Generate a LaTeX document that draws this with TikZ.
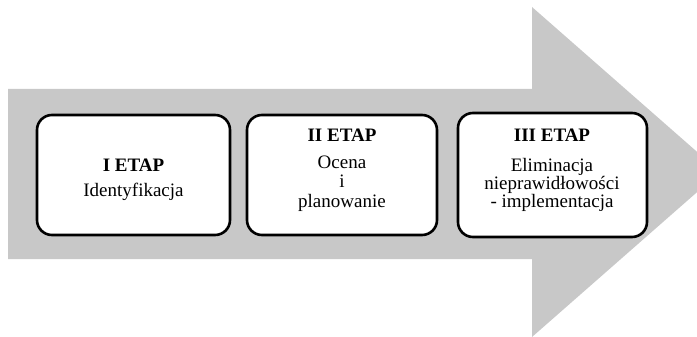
\documentclass[tikz,border=0pt]{standalone}
\usepackage{fontspec}
\setmainfont{Liberation Serif}
\begin{document}
\begin{tikzpicture}[x=1pt,y=-1pt,
  stage/.style={draw=black,fill=white,line width=2.6pt,rounded corners=15pt},
  lbl/.style={inner sep=0pt,anchor=base,font=\fontsize{19}{21}\selectfont},
  ttl/.style={lbl,font=\fontsize{19}{21}\selectfont\bfseries}]
\useasboundingbox (0,0) rectangle (697,337);
\fill[fill={rgb,255:red,200;green,200;blue,200}] (8,89) -- (532,89) -- (532,7) -- (720,172) -- (532,337) -- (532,259) -- (8,259) -- cycle;
\draw[stage] (37,115) rectangle (230,235);
\draw[stage] (247,115) rectangle (437,235);
\draw[stage] (458,113) rectangle (647,237);
\node[ttl] (t1) at (133.5,171.5) {I ETAP};
\node[lbl] (a1) at (133.5,196.5) {Identyfikacja};
\node[ttl] (t2) at (342,141.5) {II ETAP};
\node[lbl] (a2) at (342,168) {Ocena};
\node[lbl] (b2) at (342,187) {i};
\node[lbl] (c2) at (342,207) {planowanie};
\node[ttl] (t3) at (552,142) {III ETAP};
\node[lbl] (a3) at (552,171.5) {Eliminacja};
\node[lbl] (b3) at (552,189.5) {nieprawidłowości};
\node[lbl] (c3) at (552,207.5) {- implementacja};
\end{tikzpicture}
\end{document}
